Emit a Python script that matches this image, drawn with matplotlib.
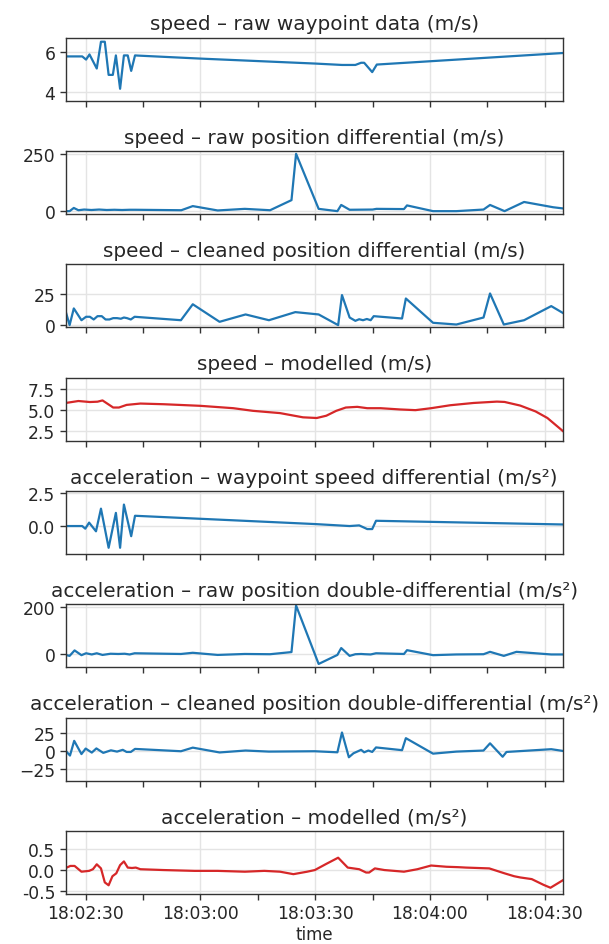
import datetime as dt
import matplotlib
matplotlib.use("Agg")
import matplotlib.pyplot as plt
import matplotlib.dates as mdates

# ---- data: seconds relative to 18:02:30, values ----
wp_speed_t = [-5.2, -0.9, 0.1, 1.0, 2.9, 4.0, 5.0, 6.0, 7.1, 7.9, 9.0, 10.0, 11.0, 11.9, 12.9, 13.8, 30.0, 60.0, 67.0, 70.5, 72.0, 72.8, 74.9, 76.1, 124.7]
wp_speed_v = [5.78, 5.78, 5.62, 5.88, 5.17, 6.52, 6.52, 4.85, 4.85, 5.83, 4.15, 5.83, 5.83, 5.05, 5.83, 5.82, 5.67, 5.42, 5.35, 5.35, 5.46, 5.46, 4.99, 5.37, 5.95]

raw_speed_t = [-5.2, -4.2, -3.1, -1.9, -0.4, 1.5, 3.5, 5.5, 7.5, 9.5, 11.5, 13.0, 25.0, 28.0, 34.5, 41.6, 48.2, 53.8, 55.0, 60.9, 65.8, 66.8, 69.0, 75.0, 76.0, 83.2, 84.0, 90.8, 96.9, 104.0, 105.7, 109.5, 114.6, 122.2, 124.7]
raw_speed_v = [0, 0, 14, 4, 7, 5, 7, 5, 6, 5, 6, 6, 4, 22, 3, 10, 4, 48, 250, 10, 0, 27, 6, 7, 10, 9, 25, 0, 0, 7, 27, 0, 40, 17, 12]

clean_speed_t = [-5.2, -4.2, -3.1, -1.1, 0.1, 1.1, 2.1, 3.1, 4.2, 5.2, 6.2, 7.2, 8.2, 9.2, 10.0, 10.8, 11.8, 12.8, 24.9, 28.0, 35.0, 41.8, 47.9, 54.8, 60.9, 66.0, 67.0, 69.0, 70.5, 71.5, 72.5, 73.5, 74.5, 75.3, 82.7, 83.7, 90.8, 96.9, 104.0, 105.7, 109.3, 114.6, 121.7, 124.7]
clean_speed_v = [10.9, 0, 13.6, 4, 6.8, 6.8, 4.6, 7.3, 7.3, 4.6, 4.6, 5.7, 5.7, 5.2, 6.2, 5.7, 4.6, 6.8, 4.0, 17.0, 2.7, 8.7, 4.0, 10.6, 8.7, 0.0, 24.5, 6.2, 3.5, 4.8, 4.0, 5.0, 4.0, 7.3, 5.4, 21.7, 1.9, 0.5, 6.2, 25.8, 0.5, 4.0, 15.5, 10.0]

model_speed_t = [-5.2, -1.9, 1.1, 3.1, 4.4, 5.7, 7.2, 8.7, 10.7, 14.3, 20.4, 30.0, 38.6, 43.7, 50.8, 56.8, 60.4, 62.9, 65.5, 68.0, 71.0, 73.6, 77.1, 82.2, 86.2, 90.3, 95.3, 101.4, 107.5, 109.5, 113.6, 117.6, 120.7, 124.7]
model_speed_v = [5.81, 6.04, 5.92, 5.96, 6.11, 5.72, 5.27, 5.27, 5.58, 5.74, 5.66, 5.47, 5.19, 4.88, 4.61, 4.11, 4.03, 4.30, 4.88, 5.27, 5.35, 5.19, 5.19, 5.04, 4.96, 5.19, 5.54, 5.81, 5.97, 5.93, 5.50, 4.81, 4.03, 2.50]

wp_acc_t = [-5.2, -0.9, -0.1, 0.9, 2.7, 4.0, 6.0, 7.9, 9.0, 10.0, 11.9, 12.9, 60.0, 69.0, 71.5, 73.6, 74.9, 75.9, 124.7]
wp_acc_v = [0.0, 0.0, -0.2, 0.26, -0.4, 1.32, -1.65, 1.0, -1.65, 1.63, -0.77, 0.78, 0.15, 0.0, 0.05, -0.23, -0.23, 0.4, 0.12]

raw_acc_t = [-5.2, -4.2, -2.9, -1.1, 0.1, 1.6, 2.9, 4.4, 6.5, 8.5, 10.2, 11.5, 12.8, 24.9, 28.0, 34.5, 41.6, 48.2, 53.8, 55.0, 60.9, 65.8, 66.8, 69.0, 70.5, 72.0, 73.0, 74.5, 75.9, 83.2, 84.0, 90.8, 96.9, 104.0, 105.7, 109.3, 112.6, 121.7, 124.7]
raw_acc_v = [-3, -7, 16, -4, 4, -1, 4, -3, 2, 1, 2, -1, 4, 1, 6, -3, 1, 0, 9, 205, -41, -3, 26, -7, 0, 1, 0, -1, 4, 1, 17, -4, -1, 0, 10, -7, 10, -1, -1]

clean_acc_t = [-5.2, -4.1, -3.0, -1.1, 0.0, 1.6, 2.8, 4.6, 6.6, 8.2, 9.7, 10.7, 11.8, 12.9, 24.9, 28.0, 35.0, 41.8, 47.9, 59.9, 65.8, 67.0, 68.8, 70.0, 72.0, 72.8, 73.9, 74.9, 75.9, 82.7, 83.7, 90.8, 96.9, 104.0, 105.7, 109.0, 110.0, 121.7, 124.7]
clean_acc_v = [0, -6.6, 14.2, -4.5, 3.3, -2.4, 3.5, -2.8, 0.8, -1.0, 1.5, -1.5, -1.5, 2.8, -0.5, 4.6, -2.2, 0.5, -1.0, -0.5, -2.0, 26.0, -9.0, -3.4, 1.5, -2.0, 0.5, -1.5, 4.9, 1.0, 18.0, -3.9, -1.0, 0.5, 10.7, -8.3, -1.5, 2.4, 0.0]

model_acc_t = [-5.2, -4.0, -2.9, -1.1, 0.9, 1.9, 2.9, 4.0, 5.0, 6.0, 7.0, 8.0, 9.0, 10.0, 11.0, 12.1, 13.1, 14.3, 20.4, 28.5, 34.5, 41.6, 46.7, 50.8, 54.3, 57.9, 59.9, 62.9, 66.0, 68.5, 71.5, 73.3, 74.1, 75.6, 78.1, 83.2, 86.7, 90.3, 94.3, 97.4, 99.4, 105.5, 109.5, 112.0, 113.6, 116.6, 119.7, 121.5, 124.7]
model_acc_v = [0.05, 0.10, 0.10, -0.04, -0.02, 0.02, 0.14, 0.04, -0.30, -0.37, -0.15, -0.08, 0.12, 0.21, 0.06, 0.05, 0.06, 0.02, 0.0, -0.02, -0.02, -0.04, -0.02, -0.04, -0.10, -0.04, 0.0, 0.15, 0.30, 0.06, 0.02, -0.06, -0.06, 0.04, 0.0, -0.04, 0.02, 0.11, 0.08, 0.07, 0.06, 0.04, -0.08, -0.15, -0.18, -0.22, -0.36, -0.43, -0.25]

titles = [
    "speed \u2013 raw waypoint data (m/s)",
    "speed \u2013 raw position differential (m/s)",
    "speed \u2013 cleaned position differential (m/s)",
    "speed \u2013 modelled (m/s)",
    "acceleration \u2013 waypoint speed differential (m/s\u00b2)",
    "acceleration \u2013 raw position double-differential (m/s\u00b2)",
    "acceleration \u2013 cleaned position double-differential (m/s\u00b2)",
    "acceleration \u2013 modelled (m/s\u00b2)",
]
series = [
    (wp_speed_t, wp_speed_v), (raw_speed_t, raw_speed_v),
    (clean_speed_t, clean_speed_v), (model_speed_t, model_speed_v),
    (wp_acc_t, wp_acc_v), (raw_acc_t, raw_acc_v),
    (clean_acc_t, clean_acc_v), (model_acc_t, model_acc_v),
]
colors = ["#1f77b4", "#1f77b4", "#1f77b4", "#d62728",
          "#1f77b4", "#1f77b4", "#1f77b4", "#d62728"]
ylims = [(3.55, 6.72), (-12.5, 262), (-1.8, 49.5), (1.35, 8.8),
         (-2.12, 2.66), (-55, 210), (-42, 47), (-0.58, 0.95)]
yticks = [[4, 6], [0, 250], [0, 25], [2.5, 5.0, 7.5],
          [0.0, 2.5], [0, 200], [-25, 0, 25], [-0.5, 0.0, 0.5]]
yfmt = [None, None, None, "%.1f", "%.1f", None, None, "%.1f"]

base = dt.datetime(2000, 1, 1, 18, 2, 30)
def to_time(ts):
    return [base + dt.timedelta(seconds=s) for s in ts]

plt.rcParams.update({
    "font.family": "DejaVu Sans",
    "font.size": 12,
    "text.color": "#262626",
    "axes.labelcolor": "#262626",
    "xtick.color": "#262626",
    "ytick.color": "#262626",
})

fig, axes = plt.subplots(8, 1, figsize=(6.09, 9.45), dpi=100, sharex=True)
fig.subplots_adjust(left=0.108, right=0.924, top=0.959, bottom=0.053, hspace=0.8)

for i, ax in enumerate(axes):
    ts, vs = series[i]
    ax.plot(to_time(ts), vs, color=colors[i], lw=1.6)
    ax.set_title(titles[i], fontsize=14.4, pad=6)
    ax.set_ylim(*ylims[i])
    ax.set_yticks(yticks[i])
    if yfmt[i]:
        ax.yaxis.set_major_formatter(matplotlib.ticker.FormatStrFormatter(yfmt[i]))
    ax.grid(True, which="major", color="#e4e4e4", lw=1.0)
    ax.set_axisbelow(True)
    for sp in ax.spines.values():
        sp.set_color("#333333")
        sp.set_linewidth(1.0)
    ax.tick_params(which="both", direction="out", length=4, width=1, colors="#333333",
                   labelcolor="#262626", labelsize=12.3)

ax = axes[-1]
ax.set_xlim(base + dt.timedelta(seconds=-5.2), base + dt.timedelta(seconds=124.7))
ax.xaxis.set_major_locator(mdates.SecondLocator(bysecond=[0, 30]))
ax.xaxis.set_minor_locator(mdates.SecondLocator(bysecond=[15, 45]))
ax.xaxis.set_major_formatter(mdates.DateFormatter("%H:%M:%S"))
ax.set_xlabel("time", fontsize=12, labelpad=2)

fig.savefig("out.png", dpi=100)
